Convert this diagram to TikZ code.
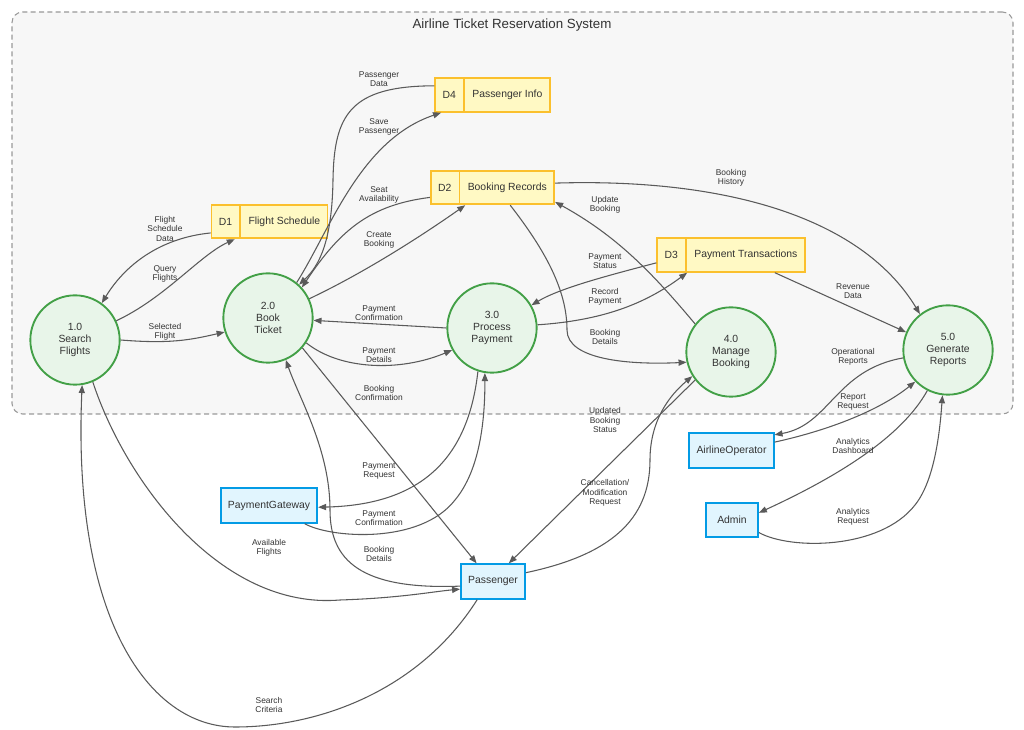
\documentclass[tikz,border=0pt]{standalone}
\usepackage{fontspec}
\setmainfont{Liberation Sans}
\usepackage{xcolor}
\usepackage{tikz}
\usetikzlibrary{shapes,arrows.meta,positioning}

\definecolor{procfill}{HTML}{E8F5E9}
\definecolor{procline}{HTML}{43A047}
\definecolor{storefill}{HTML}{FFF9C4}
\definecolor{storeline}{HTML}{FBC02D}
\definecolor{extfill}{HTML}{E1F5FE}
\definecolor{extline}{HTML}{039BE5}
\definecolor{flowline}{HTML}{5A5A5A}
\definecolor{txt}{HTML}{333333}

\begin{document}
\begin{tikzpicture}[x=0.75pt,y=-0.75pt,
  every node/.style={text=txt,font=\fontsize{7.8}{8.8}\selectfont},
  proc/.style={draw=procline,line width=1.4pt,fill=procfill,circle,minimum size=67pt,inner sep=0pt,align=center},
  store/.style={draw=storeline,line width=1.3pt,fill=storefill,rectangle split,rectangle split horizontal,rectangle split parts=2,inner xsep=5.5pt,inner ysep=9pt},
  ext/.style={draw=extline,line width=1.3pt,fill=extfill,rectangle,minimum width=39pt,minimum height=26pt,inner xsep=5.4pt},
  flow/.style={draw=flowline,line width=0.8pt,-{Triangle[length=6pt,width=4.6pt]}},
  lbl/.style={font=\fontsize{6.3}{6.9}\selectfont,align=center}]

\useasboundingbox (0,0) rectangle (1024,730);

% System boundary
\node[draw=black!40,line width=0.8pt,dash pattern=on 3.75pt off 2.5pt,fill=black!3,rounded corners=8pt,minimum width=750.75pt,minimum height=301.5pt] (sys) at (512.5,213) {};
\node[anchor=north,font=\fontsize{10}{12}\selectfont] (title) at (512,14) {Airline Ticket Reservation System};

% Processes
\node[proc] (p1) at (75,340) {1.0\\Search\\Flights};
\node[proc] (p2) at (268,318) {2.0\\Book\\Ticket};
\node[proc] (p3) at (492,328) {3.0\\Process\\Payment};
\node[proc] (p4) at (731,352) {4.0\\Manage\\Booking};
\node[proc] (p5) at (948,350) {5.0\\Generate\\Reports};

% Data stores
\node[store] (d1) at (269.5,221.5) {D1\nodepart{two}Flight Schedule};
\node[store] (d4) at (492.5,95) {D4\nodepart{two}Passenger Info};
\node[store] (d2) at (492.5,187.5) {D2\nodepart{two}Booking Records};
\node[store] (d3) at (731,255) {D3\nodepart{two}Payment Transactions};

% External entities
\node[ext] (gateway) at (269,505.5) {PaymentGateway};
\node[ext] (passenger) at (493,581.5) {Passenger};
\node[ext] (operator) at (731.5,450.5) {AirlineOperator};
\node[ext] (admin) at (732,520) {Admin};

% Flows around 1.0 and 2.0
\draw[flow] (d1.191) .. controls (160,238) and (125,265) .. (p1.54);
\node[lbl] (l1) at (165,229) {Flight\\Schedule\\Data};
\draw[flow] (p1.25) .. controls (165,298) and (200,255) .. (d1.207);
\node[lbl] (l2) at (165,274) {Query\\Flights};
\draw[flow] (p1.0) .. controls (170,344) and (190,340) .. (p2.198);
\node[lbl] (l3) at (165,332) {Selected\\Flight};
\draw[flow] (d4.171) .. controls (350,86) and (334,115) .. (333,180) .. controls (332,240) and (320,265) .. (p2.47);
\node[lbl] (l4) at (379,79) {Passenger\\Data};
\draw[flow] (p2.51) .. controls (330,230) and (360,140) .. (d4.199);
\node[lbl] (l5) at (379,127) {Save\\Passenger};
\draw[flow] (d2.189) .. controls (370,205) and (340,230) .. (p2.42);
\node[lbl] (l6) at (379,195) {Seat\\Availability};
\draw[flow] (p2.25) .. controls (370,270) and (430,230) .. (d2.213);
\node[lbl] (l7) at (379,240) {Create\\Booking};
\draw[flow] (p3.180) -- (p2.-3);
\node[lbl] (l8) at (379,313) {Payment\\Confirmation};
\draw[flow] (p2.-33) .. controls (340,370) and (400,372) .. (p3.-151);
\node[lbl] (l9) at (379,355) {Payment\\Details};
\draw[flow] (p2.-41) -- (passenger.132);
\node[lbl] (l10) at (379,393) {Booking\\Confirmation};
\draw[flow] (passenger.188) .. controls (360,590) and (330,560) .. (330,510) .. controls (330,450) and (300,400) .. (p2.-67);
\node[lbl] (l11) at (379,554) {Booking\\Details};
\draw[flow] (p1.-67) .. controls (125,480) and (220,610) .. (340,600) .. controls (400,598) and (430,592) .. (passenger.193);
\node[lbl] (l12) at (269,548) {Available\\Flights};
\draw[flow] (passenger.229) .. controls (420,690) and (320,727) .. (235,727) .. controls (150,727) and (72,620) .. (p1.-81);
\node[lbl] (l13) at (269,705) {Search\\Criteria};

% Flows around 3.0 and 4.0
\draw[flow] (p3.-108) .. controls (468,460) and (420,505) .. (gateway.-2);
\node[lbl] (l14) at (379,471) {Payment\\Request};
\draw[flow] (gateway.-27) .. controls (330,538) and (420,545) .. (455,500) .. controls (480,470) and (485,420) .. (p3.-99);
\node[lbl] (l15) at (379,518) {Payment\\Confirmation};
\draw[flow] (d3.186) .. controls (610,275) and (560,288) .. (p3.30);
\node[lbl] (l16) at (605,261) {Payment\\Status};
\draw[flow] (p3.4) .. controls (610,320) and (650,300) .. (d3.202);
\node[lbl] (l17) at (605,297) {Record\\Payment};
\draw[flow] (d2.-45) .. controls (545,250) and (567,290) .. (567,330) .. controls (567,360) and (630,365) .. (p4.-167);
\node[lbl] (l18) at (605,337) {Booking\\Details};
\draw[flow] (p4.142) .. controls (650,270) and (615,235) .. (d2.-13);
\node[lbl] (l19) at (605,205) {Update\\Booking};
\draw[flow] (p4.-142) -- (passenger.49);
\node[lbl] (l20) at (605,420) {Updated\\Booking\\Status};
\draw[flow] (passenger.15) .. controls (610,555) and (650,520) .. (650,460) .. controls (650,420) and (670,395) .. (p4.-148);
\node[lbl] (l21) at (605,493) {Cancellation/\\Modification\\Request};

% Flows around 5.0
\draw[flow] (d2.4) .. controls (720,178) and (860,215) .. (p5.128);
\node[lbl] (l22) at (731,178) {Booking\\History};
\draw[flow] (d3.-22) -- (p5.157);
\node[lbl] (l23) at (853,291) {Revenue\\Data};
\draw[flow] (p5.190) .. controls (835,370) and (830,425) .. (operator.20);
\node[lbl] (l24) at (853,357) {Operational\\Reports};
\draw[flow] (operator.11) .. controls (830,430) and (880,410) .. (p5.-136);
\node[lbl] (l25) at (853,402) {Report\\Request};
\draw[flow] (p5.-117) .. controls (900,440) and (830,480) .. (admin.15);
\node[lbl] (l26) at (853,446) {Analytics\\Dashboard};
\draw[flow] (admin.-25) .. controls (790,550) and (880,550) .. (915,505) .. controls (935,480) and (940,430) .. (p5.-97);
\node[lbl] (l27) at (853,517) {Analytics\\Request};

\end{tikzpicture}
\end{document}
